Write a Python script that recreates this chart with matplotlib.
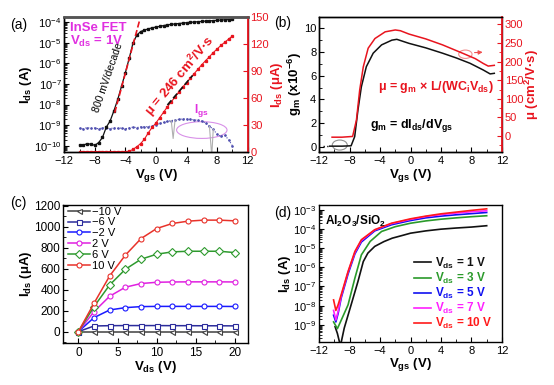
import numpy as np
import matplotlib.pyplot as plt
from matplotlib.patches import Ellipse
from matplotlib.ticker import MultipleLocator, LogLocator, NullFormatter

plt.rcParams['font.family'] = ['Liberation Sans', 'DejaVu Sans']
plt.rcParams['mathtext.fontset'] = 'custom'
plt.rcParams['mathtext.rm'] = 'Liberation Sans'
plt.rcParams['mathtext.it'] = 'Liberation Sans:italic'
plt.rcParams['mathtext.bf'] = 'Liberation Sans:bold'
plt.rcParams['xtick.direction'] = 'in'
plt.rcParams['ytick.direction'] = 'in'
plt.rcParams['axes.linewidth'] = 1.0
plt.rcParams['xtick.labelsize'] = 8
plt.rcParams['ytick.labelsize'] = 8
plt.rcParams['xtick.major.pad'] = 2.8
plt.rcParams['ytick.major.pad'] = 2

RED = '#e8141e'
MAG = '#e030e0'

# ---- (a) transfer curve, Vds = 1 V ----
vgs_a = np.arange(-10, 10.5, 0.5)
ids_a_log = [-9.97, -9.97, -9.9, -9.93, -9.98, -9.85, -9.6, -9.1, -8.8, -8.3,
             -7.75, -7.1, -6.45, -5.75, -5.0, -4.62, -4.45, -4.38, -4.32, -4.27,
             -4.23, -4.2, -4.16, -4.13, -4.1, -4.08, -4.06, -4.04, -4.02, -4.0,
             -3.99, -3.97, -3.96, -3.94, -3.93, -3.92, -3.9, -3.89, -3.88, -3.87, -3.86]
ids_a_ua = [0, 0, 0, 0, 0, 0, 0, 0, 0, 0, 0, 0, 0, 0.5, 2.5, 5.5, 9, 14, 21, 27,
            32, 38, 44, 50, 55.5, 61, 66.5, 72, 77, 82, 87, 92, 97, 101.5, 106,
            110.5, 114.5, 118.5, 122, 125.5, 129]
igs_a_log = [-9.15, -9.17, -9.12, -9.16, -9.14, -9.18, -9.13, -9.15, -9.17, -9.13,
             -9.16, -9.14, -9.18, -9.13, -9.1, -9.12, -9.08, -9.08, -9.07, -9.03,
             -8.97, -8.92, -8.87, -8.82, -8.78, -8.75, -8.72, -8.7, -8.7, -8.72,
             -8.74, -8.77, -8.8, -8.9, -9.05, -9.2, -9.45, -9.55, -9.5, -9.7, -10.0]
spike1_v = [2.0, 2.25, 2.5]
spike1_log = [-8.78, -9.65, -8.75]
spike2_v = [7.0, 7.3, 7.5]
spike2_log = [-9.05, -10.5, -9.2]
ss_fit_v = [-5.4, -2.1]
ss_fit_log = [-8.4, -3.85]
mu_fit_v = [1.5, 4.8]
mu_fit_ua = [52, 85]

# ---- (b) transconductance and mobility ----
gm_v = [-10.6, -9, -7.8, -7.33, -6.9, -6.45, -5.8, -4.9, -3.8, -2.45, -1.8,
        -0.2, 2, 4.2, 6, 7.8, 9.55, 10.45, 11.0]
gm = [0.05, 0.05, 0.08, 0.85, 3.1, 5.07, 6.76, 7.9, 8.6, 9.0, 9.07,
      8.73, 8.35, 7.9, 7.5, 7.05, 6.48, 6.15, 6.2]
gm_tail_v = [-11.5, -10.6]
gm_tail = [0.05, 0.05]
mu_v = [-10.3, -9, -7.6, -7.1, -6.67, -6.2, -5.56, -4.67, -3.33, -2.0, -1.33,
        -0.2, 2, 4.2, 6.9, 8.5, 9.55, 10.2, 11.0]
mu = [-3, -3, -1, 43, 124, 186, 236, 262, 280, 285, 283,
      274, 261, 245, 222, 208, 195, 188, 190]

# ---- (c) output curves ----
vds_c = [0, 2, 4, 6, 8, 10, 12, 14, 16, 18, 20]
vg_labels = ['\u221210 V', '\u22126 V', '\u22122 V', '2 V', '6 V', '10 V']
ids_m10 = [0, 0, 0, 0, 0, 0, 0, 0, 0, 0, 0]
ids_m6 = [0, 54, 57, 58, 58, 58, 57, 57, 56, 56, 55]
ids_m2 = [0, 134, 207, 229, 239, 241, 241, 241, 241, 241, 240]
ids_p2 = [0, 191, 338, 424, 459, 471, 474, 475, 475, 475, 474]
ids_p6 = [0, 239, 446, 595, 691, 739, 761, 767, 767, 767, 754]
ids_p10 = [0, 271, 532, 730, 888, 984, 1032, 1054, 1064, 1064, 1057]
c_colors = ['#404040', '#2b2b9b', '#1a1aff', '#e020e0', '#2e9a2e', '#e8322a']
c_markers = ['<', 's', 'o', 'o', 'D', 'o']

# ---- (d) transfer curves at several Vds ----
d_labels = ['1 V', '3 V', '5 V', '7 V', '10 V']
d_colors = ['#111111', '#2a9a2a', '#1010f0', '#ff20ff', '#ff1a1a']
d1_v = [-9.9, -9.6, -9.2, -8.7, -7.8, -6.9, -6.2, -5.6, -4.7, -3.5, -2.4, -1, 0, 2, 4, 6, 8, 10]
d1_log = [-9.1, -9.45, -10.1, -9.17, -7.96, -6.74, -5.7, -5.26, -4.91, -4.66, -4.48,
          -4.33, -4.22, -4.1, -4.01, -3.95, -3.9, -3.83]
d3_v = [-10.1, -9.6, -9.2, -8.2, -7.3, -6.45, -5.3, -3.8, -2, 0, 2, 4, 6, 8, 10]
d3_log = [-8.85, -9.2, -8.85, -7.96, -6.56, -5.35, -4.65, -4.13, -3.88, -3.7,
          -3.58, -3.49, -3.42, -3.36, -3.31]
d5_v = [-10.1, -9.8, -9.5, -9.1, -8.2, -7.3, -6.45, -4.7, -2.5, 0, 2, 4, 6, 8, 10]
d5_log = [-8.5, -8.85, -8.4, -7.6, -6.35, -5.3, -4.68, -4.1, -3.78, -3.56,
          -3.42, -3.33, -3.26, -3.2, -3.14]
d7_v = [-10.1, -9.8, -9.5, -9.1, -8.2, -7.3, -6.45, -4.7, -2.5, 0, 2, 4, 6, 8, 10]
d7_log = [-8.25, -8.75, -8.3, -7.5, -6.25, -5.22, -4.6, -4.05, -3.72, -3.5,
          -3.35, -3.25, -3.17, -3.1, -3.05]
d10_v = [-10.1, -9.8, -9.5, -9.1, -8.2, -7.3, -6.45, -4.7, -2.5, 0, 2, 4, 6, 8, 10]
d10_log = [-7.7, -8.25, -7.95, -7.43, -6.22, -5.17, -4.56, -4.04, -3.7, -3.47,
           -3.33, -3.21, -3.12, -3.03, -2.95]


def bold_label(ax, xl, yl):
    ax.set_xlabel(xl, fontsize=9.5, fontweight='bold', labelpad=0.5)
    ax.set_ylabel(yl, fontsize=9.5, fontweight='bold', labelpad=0)


fig = plt.figure(figsize=(5.54, 3.85), dpi=100)

# ================= (a) =================
ax = fig.add_axes([0.116, 0.605, 0.331, 0.351])
ax.set_yscale('log')
ax.plot(vgs_a, 10 ** np.array(igs_a_log), ':', color='#5050b0', lw=0.8,
        marker='.', ms=1.8)
ax.plot(spike1_v, 10 ** np.array(spike1_log), color='#b0b0b0', lw=0.8)
ax.plot(spike2_v, 10 ** np.array(spike2_log), color='#b0b0b0', lw=0.8)
ax.plot(vgs_a, 10 ** np.array(ids_a_log), '-', color='#111111', lw=0.9,
        marker='s', ms=1.7)
ax.plot(ss_fit_v, 10 ** np.array(ss_fit_log), '--', color=RED, lw=1.2)
ax.set_xlim(-12, 12)
ax.set_ylim(10 ** -10.31, 10 ** -3.74)
ax.xaxis.set_major_locator(MultipleLocator(4))
ax.xaxis.set_minor_locator(MultipleLocator(2))
ax.yaxis.set_major_locator(LogLocator(base=10, numticks=10))
ax.yaxis.set_minor_locator(LogLocator(base=10, subs=np.arange(2, 10), numticks=10))
ax.yaxis.set_minor_formatter(NullFormatter())
bold_label(ax, 'V$_\\mathbf{gs}$ (V)', 'I$_\\mathbf{ds}$ (A)')
ax.add_patch(Ellipse((0.75, 0.163), 0.275, 0.124, transform=ax.transAxes,
                     fill=False, ec='#d890e8', lw=0.8))
ax.text(0.749, 0.311, 'I$_\\mathbf{gs}$', transform=ax.transAxes, color=MAG,
        fontsize=8.5, fontweight='bold', ha='center', va='center')
ax.text(0.031, 0.916, 'InSe FET', transform=ax.transAxes, color=MAG,
        fontsize=9.5, fontweight='bold', va='center')
ax.text(0.031, 0.817, 'V$_\\mathbf{ds}$ = 1V', transform=ax.transAxes, color=MAG,
        fontsize=9.5, fontweight='bold', va='center')
ax.text(0.24, 0.55, '800 mV/decade', transform=ax.transAxes, fontsize=7.5,
        rotation=71, ha='center', va='center')

ax2 = ax.twinx()
ax2.plot(vgs_a, ids_a_ua, '-', color=RED, lw=0.8, marker='s', ms=1.4)
ax2.plot(mu_fit_v, mu_fit_ua, '--', color='#111111', lw=1.2)
ax2.set_ylim(-0.5, 150.3)
ax2.yaxis.set_major_locator(MultipleLocator(30))
ax2.set_ylabel('I$_\\mathbf{ds}$ (\u03bcA)', fontsize=9.5, fontweight='bold',
               color=RED, labelpad=0)
ax2.tick_params(axis='y', colors=RED)
ax2.spines['right'].set_color(RED)
ax2.spines['right'].set_linewidth(1.3)
for a in (ax, ax2):
    a.spines['top'].set_color('#555555')
    a.spines['top'].set_linewidth(1.8)
ax2.text(0.63, 0.56, '\u03bc = 246 cm$^\\mathbf{2}$/V\u00b7s', transform=ax.transAxes,
         color=RED, fontsize=9.5, fontweight='bold', rotation=50,
         ha='center', va='center')
fig.text(0.033, 0.935, '(a)', fontsize=10, ha='center', va='center')

# ================= (b) =================
bx = fig.add_axes([0.576, 0.605, 0.330, 0.351])
bx.plot(gm_tail_v, gm_tail, ':', color='#111111', lw=1)
bx.plot(gm_v, gm, '-', color='#111111', lw=1.1)
bx.set_xlim(-12, 12)
bx.set_ylim(-0.45, 10.96)
bx.xaxis.set_major_locator(MultipleLocator(4))
bx.xaxis.set_minor_locator(MultipleLocator(2))
bx.yaxis.set_major_locator(MultipleLocator(2))
bx.yaxis.set_minor_locator(MultipleLocator(1))
bold_label(bx, 'V$_\\mathbf{gs}$ (V)', 'g$_\\mathbf{m}$ (x10$^\\mathbf{-6}$)')
bx.add_patch(Ellipse((0.113, 0.052), 0.082, 0.074, transform=bx.transAxes,
                     fill=False, ec='#909090', lw=0.8))
bx.text(0.277, 0.193, 'g$_\\mathbf{m}$ = dI$_\\mathbf{ds}$/dV$_\\mathbf{gs}$',
        transform=bx.transAxes, fontsize=9, fontweight='bold', va='center')

bx2 = bx.twinx()
bx2.plot(mu_v, mu, '-', color=RED, lw=1.1)
bx2.set_ylim(-43, 320)
bx2.yaxis.set_major_locator(MultipleLocator(50))
bx2.yaxis.set_minor_locator(MultipleLocator(25))
bx2.set_ylabel('\u03bc (cm$^\\mathbf{2}$/V\u00b7s)', fontsize=9.5, fontweight='bold',
               color=RED, labelpad=0)
bx2.tick_params(axis='y', which='both', colors=RED)
bx2.spines['right'].set_color(RED)
bx2.spines['right'].set_linewidth(1.3)
bx2.text(0.322, 0.479, '\u03bc = g$_\\mathbf{m}$ \u00d7 L/(WC$_\\mathbf{i}$V$_\\mathbf{ds}$)',
         transform=bx.transAxes, color=RED, fontsize=9, fontweight='bold',
         va='center')
bx2.add_patch(Ellipse((0.80, 0.724), 0.073, 0.062, transform=bx.transAxes,
                      fill=False, ec='#f09090', lw=0.8))
bx2.annotate('', xy=(0.91, 0.74), xytext=(0.835, 0.735), xycoords=bx.transAxes,
             textcoords=bx.transAxes,
             arrowprops=dict(arrowstyle='-|>', color='#f05050', lw=0.8,
                             mutation_scale=6))
fig.text(0.511, 0.939, '(b)', fontsize=10, ha='center', va='center')

# ================= (c) =================
cx = fig.add_axes([0.1143, 0.110, 0.334, 0.358])
c_series = [ids_m10, ids_m6, ids_m2, ids_p2, ids_p6, ids_p10]
for vals, lab, col, mk in zip(c_series, vg_labels, c_colors, c_markers):
    cx.plot(vds_c, vals, '-', color=col, marker=mk, ms=3.6, mfc='white',
            mew=0.8, lw=1.1, label=lab)
cx.set_xlim(-1.92, 21.7)
cx.set_ylim(-105, 1210)
cx.xaxis.set_major_locator(MultipleLocator(5))
cx.xaxis.set_minor_locator(MultipleLocator(2.5))
cx.yaxis.set_major_locator(MultipleLocator(200))
cx.yaxis.set_minor_locator(MultipleLocator(100))
cx.tick_params(labelsize=8.5)
bold_label(cx, 'V$_\\mathbf{ds}$ (V)', 'I$_\\mathbf{ds}$ (\u03bcA)')
cx.legend(loc='upper left', bbox_to_anchor=(0.0, 1.02), frameon=False,
          fontsize=8, handlelength=2.0, handletextpad=0.2, labelspacing=0.08,
          borderaxespad=0.2, borderpad=0.2)
fig.text(0.033, 0.472, '(c)', fontsize=10, ha='center', va='center')

# ================= (d) =================
dx = fig.add_axes([0.576, 0.112, 0.330, 0.356])
dx.set_yscale('log')
d_series = [(d1_v, d1_log), (d3_v, d3_log), (d5_v, d5_log), (d7_v, d7_log),
            (d10_v, d10_log)]
for (xv, yv), lab, col in zip(d_series, d_labels, d_colors):
    dx.plot(xv, 10 ** np.array(yv), '-', color=col, lw=1.2,
            label='V$_\\mathbf{ds}$ = ' + lab)
dx.set_xlim(-12, 12)
dx.set_ylim(10 ** -9.89, 10 ** -2.74)
dx.xaxis.set_major_locator(MultipleLocator(4))
dx.xaxis.set_minor_locator(MultipleLocator(2))
dx.yaxis.set_major_locator(LogLocator(base=10, numticks=10))
dx.yaxis.set_minor_locator(LogLocator(base=10, subs=np.arange(2, 10), numticks=10))
dx.yaxis.set_minor_formatter(NullFormatter())
bold_label(dx, 'V$_\\mathbf{gs}$ (V)', 'I$_\\mathbf{ds}$ (A)')
dx.text(0.03, 0.88, 'Al$_\\mathbf{2}$O$_\\mathbf{3}$/SiO$_\\mathbf{2}$',
        transform=dx.transAxes, fontsize=8.5, fontweight='bold', va='center')
dx.legend(loc='upper left', bbox_to_anchor=(0.52, 0.63), frameon=False,
          prop={'weight': 'bold', 'size': 8.5}, labelcolor='linecolor',
          handlelength=1.4, handletextpad=0.4, labelspacing=0.0,
          borderaxespad=0, borderpad=0)
fig.text(0.511, 0.447, '(d)', fontsize=10, ha='center', va='center')

fig.savefig('out.png', dpi=100)
